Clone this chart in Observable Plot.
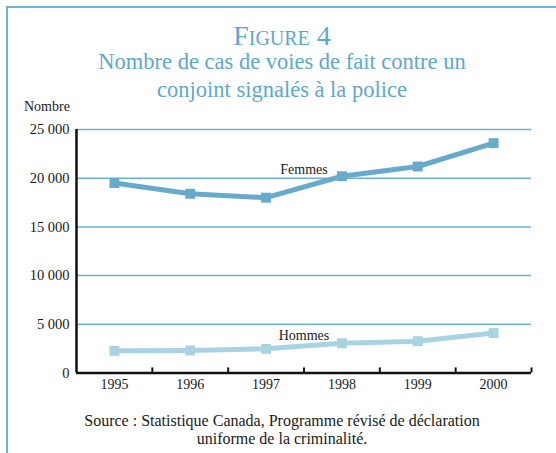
<!DOCTYPE html>
<html>
<head>
<meta charset="utf-8">
<script src="https://cdn.jsdelivr.net/npm/d3@7"></script>
<script src="https://cdn.jsdelivr.net/npm/@observablehq/plot@0.6"></script>
<style>
  html, body { margin: 0; padding: 0; background: #fff; }
  body { width: 556px; height: 453px; position: relative; overflow: hidden; font-family: "Liberation Serif", "DejaVu Serif", serif; }
  #border { position: absolute; left: 6px; top: 6px; width: 600px; height: 500px; border-left: 2px solid #6fb3d3; border-top: 2px solid #6fb3d3; }
  .ttl { position: absolute; left: 0; width: 564px; text-align: center; color: #5ea8cc; }
  #fig { top: 22px; font-size: 28px; line-height: 28px; font-variant: small-caps; }
  #sub { top: 48px; font-size: 22.5px; line-height: 28px; }
  #ylab { position: absolute; left: 24px; top: 100px; font-size: 14px; line-height: 14px; color: #1a1a1a; }
  #src { position: absolute; left: 0; width: 564px; top: 412px; text-align: center; font-size: 16px; line-height: 17.5px; color: #1a1a1a; }
  #chart { position: absolute; left: 0; top: 100px; }
  g[aria-label^="x-axis"] text { font-size: 14px; }
  g[aria-label^="y-axis"] text { font-size: 14.5px; }
</style>
</head>
<body>
<div id="border"></div>
<div id="chart"></div>
<div class="ttl" id="fig">Figure 4</div>
<div class="ttl" id="sub">Nombre de cas de voies de fait contre un<br>conjoint signalés à la police</div>
<div id="ylab">Nombre</div>
<div id="src">Source : Statistique Canada, Programme révisé de déclaration<br>uniforme de la criminalité.</div>
<script>
// Data
const years = [1995, 1996, 1997, 1998, 1999, 2000];
const femmes = [19500, 18400, 18000, 20200, 21200, 23600];
const hommes = [2280, 2320, 2480, 3060, 3270, 4100];
const yTicks = [0, 5000, 10000, 15000, 20000, 25000];
const seriesNames = ["Femmes", "Hommes"];
const labelYears = [1997.5, 1997.5];
const labelValues = [20900, 3850];

const femmesData = years.map((year, i) => ({year, value: femmes[i]}));
const hommesData = years.map((year, i) => ({year, value: hommes[i]}));
const labelsData = seriesNames.map((name, i) => ({name, year: labelYears[i], value: labelValues[i]}));
const xMin = years[0] - 0.5, xMax = years[years.length - 1] + 0.5;
const bounds = years.map(y => y + 0.5);

const colF = "#68aacb", colH = "#a8d3e3", gridCol = "#6fb1d2", ink = "#111";
const fmt = d => d3.format(",")(d).replace(/,/g, " ");

const chart = Plot.plot({
  width: 556,
  height: 300,
  marginTop: 29,
  marginBottom: 27.5,
  marginLeft: 76,
  marginRight: 25,
  style: {fontFamily: "'Liberation Serif', 'DejaVu Serif', serif", fontSize: "14px", color: "#1a1a1a", background: "transparent"},
  x: {domain: [xMin, xMax], ticks: years, tickFormat: d => String(d), tickSize: 0, tickPadding: 6, label: null},
  y: {domain: [0, 25000], ticks: yTicks, tickFormat: fmt, tickSize: 0, tickPadding: 7, label: null},
  marks: [
    Plot.ruleY(yTicks.filter(d => d > 0), {stroke: gridCol, strokeWidth: 1.5}),
    Plot.ruleY([0], {stroke: ink, strokeWidth: 2.5}),
    Plot.ruleX([xMin], {y1: 0, y2: 25000, stroke: ink, strokeWidth: 2.5}),
    Plot.ruleX(bounds, {y1: 0, y2: 520, stroke: ink, strokeWidth: 2}),
    Plot.line(femmesData, {x: "year", y: "value", stroke: colF, strokeWidth: 5}),
    Plot.dot(femmesData, {x: "year", y: "value", symbol: "square", r: 5.6, fill: colF}),
    Plot.line(hommesData, {x: "year", y: "value", stroke: colH, strokeWidth: 5}),
    Plot.dot(hommesData, {x: "year", y: "value", symbol: "square", r: 5.6, fill: colH}),
    Plot.text(labelsData, {x: "year", y: "value", text: "name", fontSize: 14, fill: "#222"})
  ]
});
document.getElementById("chart").appendChild(chart);
</script>
</body>
</html>
